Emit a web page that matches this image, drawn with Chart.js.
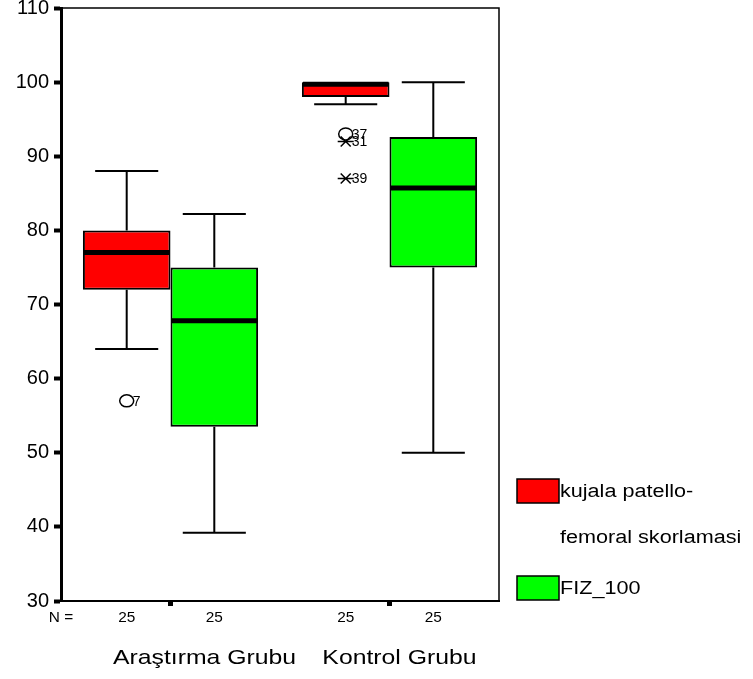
<!DOCTYPE html>
<html>
<head>
<meta charset="utf-8">
<script src="https://cdn.jsdelivr.net/npm/chart.js@4.4.1/dist/chart.umd.min.js"></script>
<style>
  html, body { margin: 0; padding: 0; background: #fff; }
  #wrap { position: relative; width: 753px; height: 679px; }
</style>
</head>
<body>
<div id="wrap"><canvas id="chart" width="753" height="679"></canvas></div>
<script>
// Categories and series
const groups = ['Araştırma Grubu', 'Kontrol Grubu'];
const seriesNames = [['kujala patello-', 'femoral skorlamasi'], ['FIZ_100']];
const seriesColors = ['#ff0000', '#00ff00'];

// Box plot statistics per group
const kujalaMin = [64, 97];
const kujalaQ1 = [72, 98];
const kujalaMed = [77, 99.7];
const kujalaQ3 = [80, 100];
const kujalaMax = [88, 100];

const fizMin = [39.2, 50];
const fizQ1 = [53.5, 75];
const fizMed = [67.8, 85.7];
const fizQ3 = [75, 92.6];
const fizMax = [82.2, 100];

// N per box
const kujalaN = [25, 25];
const fizN = [25, 25];

// Outliers (series index, group index, value, case label, marker)
const outSeries = [0, 0, 0, 0];
const outGroup = [0, 1, 1, 1];
const outValue = [57, 93, 92, 87];
const outLabel = ['7', '37', '31', '39'];
const outShape = ['circle', 'circle', 'star', 'star'];

// Y axis ticks
const yMin = 30, yMax = 110, yStep = 10;

const FONT = "'Liberation Sans', Arial, sans-serif";

const stats = [
    { min: kujalaMin, q1: kujalaQ1, med: kujalaMed, q3: kujalaQ3, max: kujalaMax, n: kujalaN },
    { min: fizMin, q1: fizQ1, med: fizMed, q3: fizQ3, max: fizMax, n: fizN }
];

// text drawn a little wider than normal, like the original export
function wideText(ctx, text, x, y, sx) {
    ctx.save();
    ctx.translate(x, y);
    ctx.scale(sx, 1);
    ctx.fillText(text, 0, 0);
    ctx.restore();
}

// Draws whiskers, medians, outliers, frame, N row, group labels and legend
const boxPlotExtras = {
    id: 'boxPlotExtras',
    afterDatasetsDraw(chart) {
        const ctx = chart.ctx;
        const y = chart.scales.y;
        const area = chart.chartArea;
        ctx.save();
        ctx.strokeStyle = '#000';

        stats.forEach((s, di) => {
            const meta = chart.getDatasetMeta(di);
            meta.data.forEach((bar, gi) => {
                const cx = bar.x;
                const w = bar.width;
                const capW = w * 0.72;
                const yq1 = y.getPixelForValue(s.q1[gi]);
                const yq3 = y.getPixelForValue(s.q3[gi]);
                const ymin = y.getPixelForValue(s.min[gi]);
                const ymax = y.getPixelForValue(s.max[gi]);
                const ymed = y.getPixelForValue(s.med[gi]);

                ctx.lineWidth = 2;
                ctx.beginPath();
                if (ymax < yq3 - 0.5) {
                    ctx.moveTo(cx, yq3); ctx.lineTo(cx, ymax);
                    ctx.moveTo(cx - capW / 2, ymax); ctx.lineTo(cx + capW / 2, ymax);
                }
                if (ymin > yq1 + 0.5) {
                    ctx.moveTo(cx, yq1); ctx.lineTo(cx, ymin);
                    ctx.moveTo(cx - capW / 2, ymin); ctx.lineTo(cx + capW / 2, ymin);
                }
                ctx.stroke();

                ctx.lineWidth = 5;
                ctx.beginPath();
                ctx.moveTo(cx - w / 2 + 1, ymed);
                ctx.lineTo(cx + w / 2 - 1, ymed);
                ctx.stroke();
            });
        });

        // outliers
        ctx.font = '14px ' + FONT;
        ctx.fillStyle = '#000';
        ctx.textBaseline = 'middle';
        ctx.textAlign = 'left';
        outValue.forEach((v, i) => {
            const bar = chart.getDatasetMeta(outSeries[i]).data[outGroup[i]];
            const cx = bar.x;
            const cy = y.getPixelForValue(v);
            ctx.lineWidth = 1.5;
            ctx.beginPath();
            if (outShape[i] === 'circle') {
                ctx.ellipse(cx, cy, 7, 6, 0, 0, Math.PI * 2);
            } else {
                ctx.moveTo(cx - 5, cy - 5); ctx.lineTo(cx + 5, cy + 5);
                ctx.moveTo(cx - 5, cy + 5); ctx.lineTo(cx + 5, cy - 5);
                ctx.moveTo(cx - 8, cy); ctx.lineTo(cx + 8, cy);
            }
            ctx.stroke();
            ctx.fillText(outLabel[i], cx + 6, cy + 1);
        });

        // frame top and right
        ctx.lineWidth = 1.5;
        ctx.beginPath();
        ctx.moveTo(area.left, area.top);
        ctx.lineTo(area.right, area.top);
        ctx.lineTo(area.right, area.bottom);
        ctx.stroke();

        // N row
        ctx.font = '14px ' + FONT;
        ctx.textAlign = 'center';
        wideText(ctx, 'N =', area.left, area.bottom + 17, 1.1);
        stats.forEach((s, di) => {
            chart.getDatasetMeta(di).data.forEach((bar, gi) => {
                wideText(ctx, String(s.n[gi]), bar.x, area.bottom + 17, 1.1);
            });
        });

        // group labels
        const labelShift = [34, 10];
        ctx.font = '21px ' + FONT;
        groups.forEach((g, gi) => {
            const x = chart.scales.x.getPixelForValue(gi) + labelShift[gi];
            wideText(ctx, g, x, area.bottom + 57, 1.18);
        });

        // legend
        const lx = area.right + 18;
        const swW = 42, swH = 24;
        const legendTop = [479, 576];
        ctx.textAlign = 'left';
        ctx.font = '18px ' + FONT;
        seriesNames.forEach((lines, di) => {
            const ty = legendTop[di];
            ctx.fillStyle = seriesColors[di];
            ctx.fillRect(lx, ty, swW, swH);
            ctx.lineWidth = 1.5;
            ctx.strokeRect(lx, ty, swW, swH);
            ctx.fillStyle = '#000';
            lines.forEach((t, li) => {
                wideText(ctx, t, lx + swW + 1, ty + swH / 2 + 1 + li * 46, 1.2);
            });
        });
        ctx.restore();
    }
};

new Chart(document.getElementById('chart'), {
    type: 'bar',
    data: {
        labels: groups,
        datasets: stats.map((s, di) => ({
            label: seriesNames[di].join(''),
            data: s.q1.map((q, i) => [q, s.q3[i]]),
            backgroundColor: seriesColors[di],
            borderColor: '#000',
            borderWidth: 2,
            borderSkipped: false,
            categoryPercentage: 0.8,
            barPercentage: 1.0
        }))
    },
    options: {
        responsive: false,
        animation: false,
        layout: { padding: { top: 8, right: 254, left: 0, bottom: 0 } },
        plugins: { legend: { display: false }, tooltip: { enabled: false } },
        scales: {
            x: {
                offset: true,
                grid: { display: true, drawOnChartArea: false, offset: false, tickLength: 5, tickWidth: 5, color: '#000' },
                border: { display: true, color: '#000', width: 2 },
                ticks: { display: false },
                afterFit(scale) { scale.height = 78; }
            },
            y: {
                min: yMin,
                max: yMax,
                ticks: {
                    stepSize: yStep,
                    color: '#000',
                    padding: 5,
                    font: { family: FONT, size: 20 }
                },
                grid: { drawOnChartArea: false, tickLength: 7, tickWidth: 4, color: '#000' },
                border: { display: true, color: '#000', width: 3 },
                afterFit(scale) {
                    scale.width = 61;
                    scale.paddingTop = 0;
                    scale.paddingBottom = 0;
                }
            }
        }
    },
    plugins: [boxPlotExtras]
});
</script>
</body>
</html>
